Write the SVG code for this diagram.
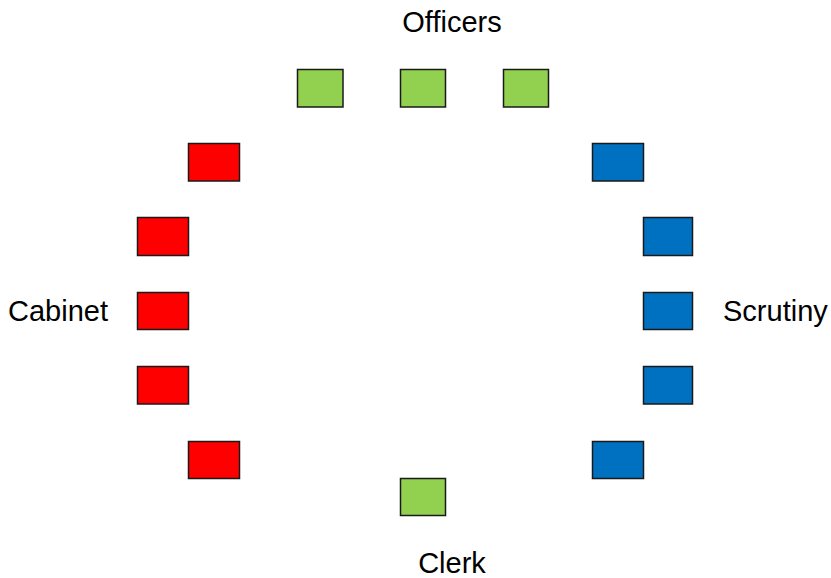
<svg xmlns="http://www.w3.org/2000/svg" width="831" height="578" viewBox="0 0 831 578">
  <style>
    .seat { stroke: #1a1a1a; stroke-width: 1.5; }
    .green { fill: #92d050; }
    .red { fill: #ff0000; }
    .blue { fill: #0070c0; }
    .label { font-family: "Liberation Sans", Arial, sans-serif; font-size: 29px; fill: #000; }
  </style>
  <rect width="831" height="578" fill="#ffffff"/>

  <!-- Officers -->
  <g id="officer-1"><rect class="seat green" x="297.5" y="69.5" width="45.5" height="37.5"/></g>
  <g id="officer-2"><rect class="seat green" x="400.5" y="69.5" width="45" height="37.5"/></g>
  <g id="officer-3"><rect class="seat green" x="503.5" y="69.5" width="45" height="37.5"/></g>

  <!-- Cabinet -->
  <g id="cabinet-1"><rect class="seat red" x="188.5" y="143.5" width="51" height="37.5"/></g>
  <g id="cabinet-2"><rect class="seat red" x="137.5" y="217.5" width="51" height="38"/></g>
  <g id="cabinet-3"><rect class="seat red" x="137.5" y="292.5" width="51" height="37"/></g>
  <g id="cabinet-4"><rect class="seat red" x="137.5" y="366.5" width="51" height="37.5"/></g>
  <g id="cabinet-5"><rect class="seat red" x="188.5" y="441.5" width="51" height="37"/></g>

  <!-- Scrutiny -->
  <g id="scrutiny-1"><rect class="seat blue" x="592.5" y="143.5" width="51" height="37.5"/></g>
  <g id="scrutiny-2"><rect class="seat blue" x="643.5" y="217.5" width="49" height="38"/></g>
  <g id="scrutiny-3"><rect class="seat blue" x="643.5" y="292.5" width="49" height="37"/></g>
  <g id="scrutiny-4"><rect class="seat blue" x="643.5" y="366.5" width="49" height="37.5"/></g>
  <g id="scrutiny-5"><rect class="seat blue" x="592.5" y="441.5" width="51" height="37"/></g>

  <!-- Clerk -->
  <g id="clerk"><rect class="seat green" x="400.5" y="478.5" width="45" height="37"/></g>

  <!-- Labels -->
  <g id="labels">
    <text class="label" x="452" y="32" text-anchor="middle">Officers</text>
    <text class="label" x="8" y="321">Cabinet</text>
    <text class="label" x="723" y="321">Scrutiny</text>
    <text class="label" x="452" y="573" text-anchor="middle">Clerk</text>
  </g>

  <!-- No connectors in this layout -->
  <g id="connectors"/>
</svg>
